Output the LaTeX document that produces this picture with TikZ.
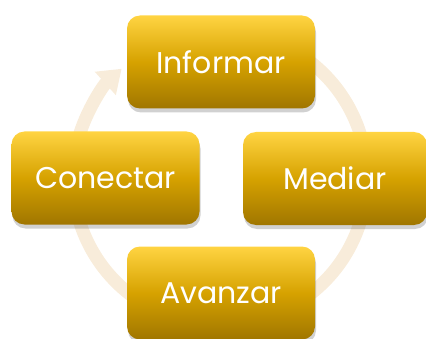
\documentclass[tikz,border=0pt]{standalone}
\usepackage{fontspec}
\setmainfont{Poppins}
\usepackage{tikz}
\usetikzlibrary{arrows.meta,shadows}
\definecolor{ringbeige}{RGB}{248,236,218}
\definecolor{goldtop}{RGB}{255,212,66}
\definecolor{goldmid}{RGB}{214,162,0}
\definecolor{goldbot}{RGB}{160,118,0}

\begin{document}
\begin{tikzpicture}[x=1pt,y=1pt,
		stage/.style={rectangle, rounded corners=13pt, minimum width=188pt, minimum height=93pt,
			top color=goldtop, bottom color=goldbot, middle color=goldmid, text=white,
			font=\fontsize{30}{35}\selectfont,
			drop shadow={shadow xshift=1pt, shadow yshift=-4pt, opacity=0.3, fill=black!60}}]
	\useasboundingbox (0,0) rectangle (426,338);
	\coordinate (centre) at (220,160);
	% cycle ring
	\draw[ringbeige, line width=13pt, -{Triangle[width=30pt,length=22pt]}]
		([shift={(70:147)}]centre) arc (70:-228:147);
	\node[stage] (informar) at (221,276) {Informar};
	\node[stage, minimum width=184pt] (mediar) at (335,159.5) {Mediar};
	\node[stage] (conectar) at (105.5,160) {Conectar};
	\node[stage] (avanzar) at (221,45) {Avanzar};
\end{tikzpicture}
\end{document}
